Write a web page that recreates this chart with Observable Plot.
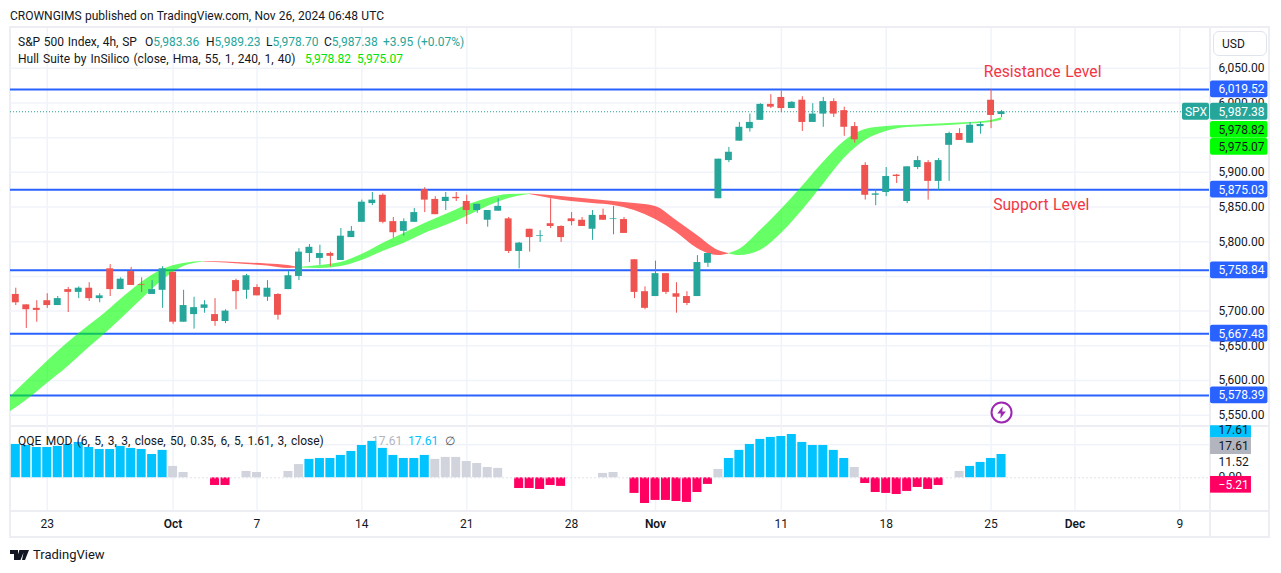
<!DOCTYPE html>
<html><head><meta charset="utf-8">
<script src="https://cdn.jsdelivr.net/npm/d3@7"></script>
<script src="https://cdn.jsdelivr.net/npm/@observablehq/plot@0.6"></script>
<style>
html,body{margin:0;padding:0;background:#fff}
#stage{position:relative;width:1281px;height:573px;overflow:hidden;font-family:Roboto,"Open Sans",sans-serif;color:#131722;word-spacing:.7px}
#stage svg{position:absolute;left:0;top:0;background:transparent;overflow:visible}
.t{position:absolute;white-space:pre;font-size:12px;line-height:16px}
.box{position:absolute;box-sizing:border-box}
.up{color:#26a69a}.hull{color:#00e600}.gr{color:#b2b5be}.bl{color:#00c3ff}
</style></head><body>
<div id="stage">
  <div class="box" style="left:9px;top:26px;width:1261px;height:512px;border:2px solid #eceef3"></div>
  <div class="box" style="left:1209px;top:27px;width:2px;height:510px;background:#eceef3"></div>
  <div class="box" style="left:10px;top:425px;width:1260px;height:2px;background:#eceef3"></div>
  <div class="box" style="left:10px;top:510px;width:1260px;height:2px;background:#eceef3"></div>
  <div id="charts"></div>
  <div class="box" style="left:1213px;top:31px;width:54px;height:25px;border:1px solid #e0e3eb;border-radius:6px;background:#fff"></div>
  <div class="t" style="left:1222px;top:36px">USD</div>
  <div class="t" style="left:10px;top:8px;word-spacing:.3px">CROWNGIMS published on TradingView.com, Nov 26, 2024 06:48 UTC</div>
  <div class="t" style="left:18px;top:34px">S&amp;P 500 Index, 4h, SP</div>
  <div class="t" style="left:145px;top:34px">O<span class="up">5,983.36</span></div>
  <div class="t" style="left:206px;top:34px">H<span class="up">5,989.23</span></div>
  <div class="t" style="left:266px;top:34px">L<span class="up">5,978.70</span></div>
  <div class="t" style="left:324px;top:34px">C<span class="up">5,987.38</span></div>
  <div class="t up" style="left:383px;top:34px">+3.95 (+0.07%)</div>
  <div class="t" style="left:18px;top:51px;word-spacing:1.1px">Hull Suite by InSilico (close, Hma, 55, 1, 240, 1, 40)</div>
  <div class="t hull" style="left:305px;top:51px">5,978.82</div>
  <div class="t hull" style="left:357px;top:51px">5,975.07</div>
  <div class="t" style="left:18px;top:433px;word-spacing:1.4px">QQE MOD (6, 5, 3, 3, close, 50, 0.35, 6, 5, 1.61, 3, close)</div>
  <div class="t gr" style="left:372px;top:433px">17.61</div>
  <div class="t bl" style="left:408px;top:433px">17.61</div>
  <div class="t" style="left:445px;top:433px;color:#50535e">∅</div>
  <svg style="left:10px;top:549px" width="20" height="12" viewBox="0 0 20 12"><path d="M0 1h8v10H4V5H0z M9.5 1h5l-4 10H6z M14 1h5l-4 10h-3z" fill="#131722" fill-rule="nonzero"/><circle cx="11" cy="3" r="2" fill="#131722"/></svg>
  <div class="t" style="left:33px;top:547px;font-size:13px">TradingView</div>
</div>
<script>
// Candles, index 0..94 (two 4h bars per session)
const opens  = [5724,5709,5704,5715,5708,5731,5727,5733,5718,5761,5731,5757,5738,5724,5730,5756,5684,5695,5704,5695,5685,5744,5730,5734,5720,5724,5731,5750,5783,5776,5783,5773,5806,5828,5855,5867,5829,5815,5828,5875,5861,5858,5864,5858,5845,5831,5844,5833,5786,5818,5808,5826,5822,5833,5831,5818,5838,5832,5832,5774,5728,5721,5754,5725,5721,5721,5769,5862,5917,5945,5963,5975,5998,6008,5992,6004,5972,5984,6002,5989,5966,5910,5867,5871,5896,5858,5907,5914,5887,5939,5956,5942,5966,6004,5983.36];
const highs  = [5733,5709,5715,5725,5721,5734,5735,5741,5725,5767,5748,5763,5748,5744,5764,5756,5730,5720,5715,5718,5702,5746,5753,5738,5744,5725,5757,5790,5796,5795,5785,5819,5822,5860,5871,5869,5835,5833,5848,5878,5865,5871,5871,5867,5854,5845,5862,5835,5799,5818,5816,5862,5823,5842,5835,5845,5847,5851,5835,5774,5735,5772,5754,5741,5728,5780,5783,5919,5936,5972,5984,5999,6012,6017,6002,6009,5999,6008,6006,5994,5972,5914,5875,5907,5897,5908,5923,5917,5920,5958,5963,5972,5972,6019.5,5989.23];
const lows   = [5708,5675,5684,5704,5708,5698,5718,5714,5712,5721,5731,5737,5727,5724,5704,5681,5684,5674,5697,5678,5682,5702,5717,5722,5714,5687,5731,5744,5770,5766,5764,5773,5806,5828,5852,5826,5805,5808,5828,5842,5839,5845,5858,5825,5841,5821,5844,5783,5761,5785,5799,5819,5799,5823,5822,5802,5831,5810,5812,5718,5702,5721,5724,5697,5708,5721,5763,5862,5914,5945,5958,5975,5992,5986,5992,5959,5972,5965,5979,5952,5942,5860,5852,5865,5884,5855,5904,5860,5874,5887,5946,5942,5955,5963,5978.70];
const closes = [5712,5702,5701,5708,5718,5727,5733,5718,5722,5731,5746,5737,5737,5731,5761,5684,5708,5705,5709,5685,5700,5728,5751,5722,5733,5694,5751,5785,5792,5783,5779,5808,5815,5857,5860,5828,5813,5829,5842,5860,5839,5864,5862,5845,5854,5845,5851,5786,5798,5806,5809,5822,5806,5829,5822,5838,5831,5833,5812,5727,5704,5754,5727,5720,5711,5770,5783,5919,5929,5965,5972,5998,5994,5992,6001,5972,5984,6002,5984,5965,5947,5867,5869,5894,5894,5908,5917,5887,5917,5956,5946,5968,5969,5982,5987.38];

// Hull Suite ribbon: bar, upper edge, lower edge
const hullGreenA = [[-0.5,5576.9,5555.3],[1,5598.6,5571.2],[3,5627.4,5595.7],[5,5654.8,5620.2],[7,5679.3,5647.6],[8,5690.8,5660.5],[10,5716.8,5687.9],[12,5741.3,5716.8],[14,5760,5744.2],[16,5768.7,5764.3],[18,5771.5,5770.8]];
const hullRedA   = [[18,5771.5,5770.8],[20,5770.8,5769.4],[22,5769.4,5767.2],[24,5767.9,5765],[26,5765.8,5761.5],[27,5762.9,5762.2]];
const hullGreenB = [[27,5762.9,5762.2],[29,5765.8,5761.5],[31,5770.1,5764.3],[33,5781.6,5773],[35,5797.5,5786],[37,5811.9,5797.5],[39,5826.3,5811.9],[41,5839.3,5823.4],[43,5852.3,5836.4],[45,5862.4,5850.8],[47,5868.1,5862.4],[49,5868.8,5868.1]];
const hullRedB   = [[49,5868.8,5868.1],[51,5866.7,5862.4],[53,5863.8,5858],[55,5860.9,5855.2],[57,5858,5852.3],[59,5855.2,5845.1],[61,5850.8,5832.1],[63,5830.7,5813.3],[65,5809,5790.3],[67,5787.4,5780.2],[68,5783,5782.4]];
const hullGreenC = [[68,5783,5782.4],[69,5788.8,5780.2],[71,5816.2,5787.4],[73,5846.5,5811.9],[75,5879.7,5845.1],[77,5914.3,5882.6],[79,5944.5,5920],[81,5961.8,5946],[83,5966.2,5959],[85,5967.6,5964.7],[87,5969,5966.2],[89,5970.5,5967.6],[91,5971.9,5969.8],[93,5974.8,5971.9],[94,5978.82,5975.07]];

const levels = [6019.52,5875.03,5758.84,5667.48,5578.39];
const priceTicks = [6050,6000,5950,5900,5850,5800,5750,5700,5650,5600,5550];
const priceLabels = [6050,6000,5900,5850,5800,5700,5650,5600,5550];

// QQE MOD histogram
const qqe = [25.2,24.4,22.9,22.9,23.7,25.2,26.7,22.9,21.4,21.4,23.7,22.2,21.4,17.6,20.7,8.6,4,0,0,-5.8,-5.8,0,4.8,4,0,0,4.8,10,13.9,14.6,14.6,16.9,19.9,24.4,27.5,22.2,16.9,14.6,14.6,16.9,13.9,15.4,15.4,12.3,10.8,7.8,7.1,0,-8.1,-8.1,-8.8,-5.8,-6.5,0,0,0,3.3,4,0,-11.8,-19.4,-17.1,-17.1,-17.9,-18.6,-11.1,-5,6.3,14.6,20.7,25.2,29,30.5,31.2,32.7,26.7,24.4,24.4,20.7,14.6,7.8,-4.3,-11.1,-11.8,-12.6,-10.3,-7.3,-8.8,-5.8,0,4.8,8.6,11.6,14.6,17.61];
const qqeGrey = [15,16,22,23,26,27,40,41,42,43,44,45,46,56,57,67,80,90];

// Time axis: bar index and label
const dayTicks = [3,23,33,43,53,73,83,93,111];
const dayLabels = ["23","7","14","21","28","11","18","25","9"];
const monthTicks = [15,61,101];
const monthLabels = ["Oct","Nov","Dec"];

// Price tags: printed value, value the tag is stacked at, fill, text colour
const tagValues = [6019.52,5875.03,5758.84,5667.48,5578.39,5987.38,5978.82,5975.07];
const tagAt     = [6019.52,5875.03,5758.84,5667.48,5578.39,5987.38,5961.4,5936.8];
const tagFills  = ["#2962ff","#2962ff","#2962ff","#2962ff","#2962ff","#26a69a","#00ff00","#00ff00"];
const tagInks   = ["#fff","#fff","#fff","#fff","#fff","#fff","#131722","#131722"];

const qqePlain = [["11.52",11.52],["0.00",0.4]];
const qqeTagValues = ["17.61","17.61","\u22125.21"];
const qqeTagAt     = [36.3,23.9,-5.3];
const qqeTagFills  = ["#00c3ff","#b2b5be","#ff0062"];
const qqeTagInks   = ["#131722","#131722","#fff"];

const bars = opens.map((o,i)=>({i,o,h:highs[i],l:lows[i],c:closes[i],color:closes[i]>=o?"#26a69a":"#ef5350"}));
const ribbon = (rows)=>rows.map(r=>({i:r[0],u:r[1],l:r[2]}));
const allTicks = [...dayTicks,...monthTicks];
const fmt = d3.format(",.2f");
const xDomain = [-0.505,113.83];
const FONT = 'Roboto,"Open Sans",sans-serif';
const tagHalfV = 12.1, tagX1 = 113.93, tagX2 = 119.4;

const hullArea = (rows,fill)=>Plot.areaY(ribbon(rows),{x:"i",y1:"l",y2:"u",fill,fillOpacity:0.6,curve:"monotone-x",clip:"frame"});
const tags = tagValues.map((v,k)=>({v,at:tagAt[k],fill:tagFills[k],ink:tagInks[k]}));
const bolt = {draw(ctx,size){const k=Math.sqrt(size)/8.86;
  [[1,-5],[-3.6,0.9],[-0.6,0.9],[-1,5],[3.6,-0.9],[0.6,-0.9]].forEach(([a,b],n)=>n?ctx.lineTo(a*k,b*k):ctx.moveTo(a*k,b*k));ctx.closePath();}};

const main = Plot.plot({
  width:1281,height:573,marginLeft:10,marginRight:72,marginTop:28,marginBottom:148,
  style:{background:"transparent",fontFamily:FONT,fontSize:"12px",color:"#131722"},
  x:{domain:xDomain,axis:null},
  y:{domain:[5535.1,6107.4],axis:null},
  marks:[
    Plot.ruleX(allTicks,{x:d=>d,stroke:"#f0f3fa",strokeWidth:1.5}),
    Plot.ruleY(priceTicks,{y:d=>d,stroke:"#f0f3fa",strokeWidth:1.5}),
    Plot.axisY({anchor:"right",ticks:priceLabels,tickSize:0,tickPadding:9,tickFormat:fmt,textAnchor:"start",fontSize:12,fill:"#131722"}),
    Plot.ruleY(levels,{y:d=>d,stroke:"#2962ff",strokeWidth:2}),
    hullArea(hullGreenA,"#00ff00"),hullArea(hullRedA,"#ff0000"),hullArea(hullGreenB,"#00ff00"),hullArea(hullRedB,"#ff0000"),hullArea(hullGreenC,"#00ff00"),
    Plot.ruleY([closes[closes.length-1]],{y:d=>d,stroke:"#26a69a",strokeDasharray:"1 2",strokeWidth:1}),
    Plot.ruleX(bars,{x:"i",y1:"l",y2:"h",stroke:"color",strokeWidth:1}),
    Plot.rect(bars,{x1:d=>d.i-0.33,x2:d=>d.i+0.33,y1:"o",y2:"c",fill:"color"}),
    Plot.text(["Resistance Level"],{x:92.3,y:6045.4,text:d=>d,textAnchor:"start",fill:"#f23645",fontSize:15.7}),
    Plot.text(["Support Level"],{x:93.2,y:5853.7,text:d=>d,textAnchor:"start",fill:"#f23645",fontSize:15.7}),
    Plot.dot([94],{x:d=>d,y:5553.9,r:10,stroke:"#9c27b0",strokeWidth:2,fill:"#fff"}),
    Plot.dot([94],{x:d=>d,y:5553.9,r:6,symbol:bolt,fill:"#9c27b0",stroke:"none"}),
    Plot.rect(tags,{x1:tagX1,x2:tagX2,y1:d=>d.at-tagHalfV,y2:d=>d.at+tagHalfV,fill:"fill",rx:2}),
    Plot.text(tags,{x:tagX1,dx:8,y:"at",text:d=>fmt(d.v),textAnchor:"start",fill:"ink",fontSize:12}),
    Plot.rect(["SPX"],{x1:111.25,x2:113.83,y1:closes[94]-tagHalfV,y2:closes[94]+tagHalfV,fill:"#26a69a",rx:2}),
    Plot.text(["SPX"],{x:112.54,y:closes[94],text:d=>d,fill:"#fff",fontSize:12})
  ]
});

const qbars = qqe.map((v,i)=>({i,v,color:qqeGrey.includes(i)?"#d1d4dc":(v>0?"#00c3ff":"#ff0062")})).filter(d=>d.v!==0);
const qtags = qqeTagValues.map((t,k)=>({t,at:qqeTagAt[k],fill:qqeTagFills[k],ink:qqeTagInks[k]}));
const qHalf = 6.3, qTop = 39.3;
const sub = Plot.plot({
  width:1281,height:573,marginLeft:10,marginRight:72,marginTop:425,marginBottom:63,
  style:{background:"transparent",fontFamily:FONT,fontSize:"12px",color:"#131722"},
  x:{domain:xDomain,axis:null},
  y:{domain:[-24.7,39.5],axis:null},
  marks:[
    Plot.ruleX(allTicks,{x:d=>d,stroke:"#f0f3fa",strokeWidth:1.5}),
    Plot.ruleY([25],{y:d=>d,stroke:"#f0f3fa",strokeWidth:1.5}),
    Plot.rect(qbars,{x1:d=>d.i-0.43,x2:d=>d.i+0.43,y1:0,y2:"v",fill:"color"}),
    Plot.ruleY([0],{y:d=>d,stroke:"#e0e3eb",strokeDasharray:"2 2",strokeWidth:1}),
    Plot.text(qqePlain,{x:tagX1,dx:8,y:d=>d[1],text:d=>d[0],textAnchor:"start",fill:"#131722",fontSize:12}),
    Plot.rect(qtags,{x1:tagX1,x2:117.83,y1:d=>d.at-qHalf,y2:d=>Math.min(d.at+qHalf,qTop),fill:"fill"}),
    Plot.text(qtags,{x:tagX1,dx:8,y:"at",text:"t",textAnchor:"start",fill:"ink",fontSize:12}),
    Plot.axisX({anchor:"bottom",ticks:dayTicks,tickSize:0,tickPadding:9,tickFormat:d=>dayLabels[dayTicks.indexOf(d)],fontSize:12,fill:"#131722"}),
    Plot.axisX({anchor:"bottom",ticks:monthTicks,tickSize:0,tickPadding:9,tickFormat:d=>monthLabels[monthTicks.indexOf(d)],fontSize:12,fontWeight:600,fill:"#131722"})
  ]
});
document.getElementById("charts").append(main,sub);
</script>
</body></html>
